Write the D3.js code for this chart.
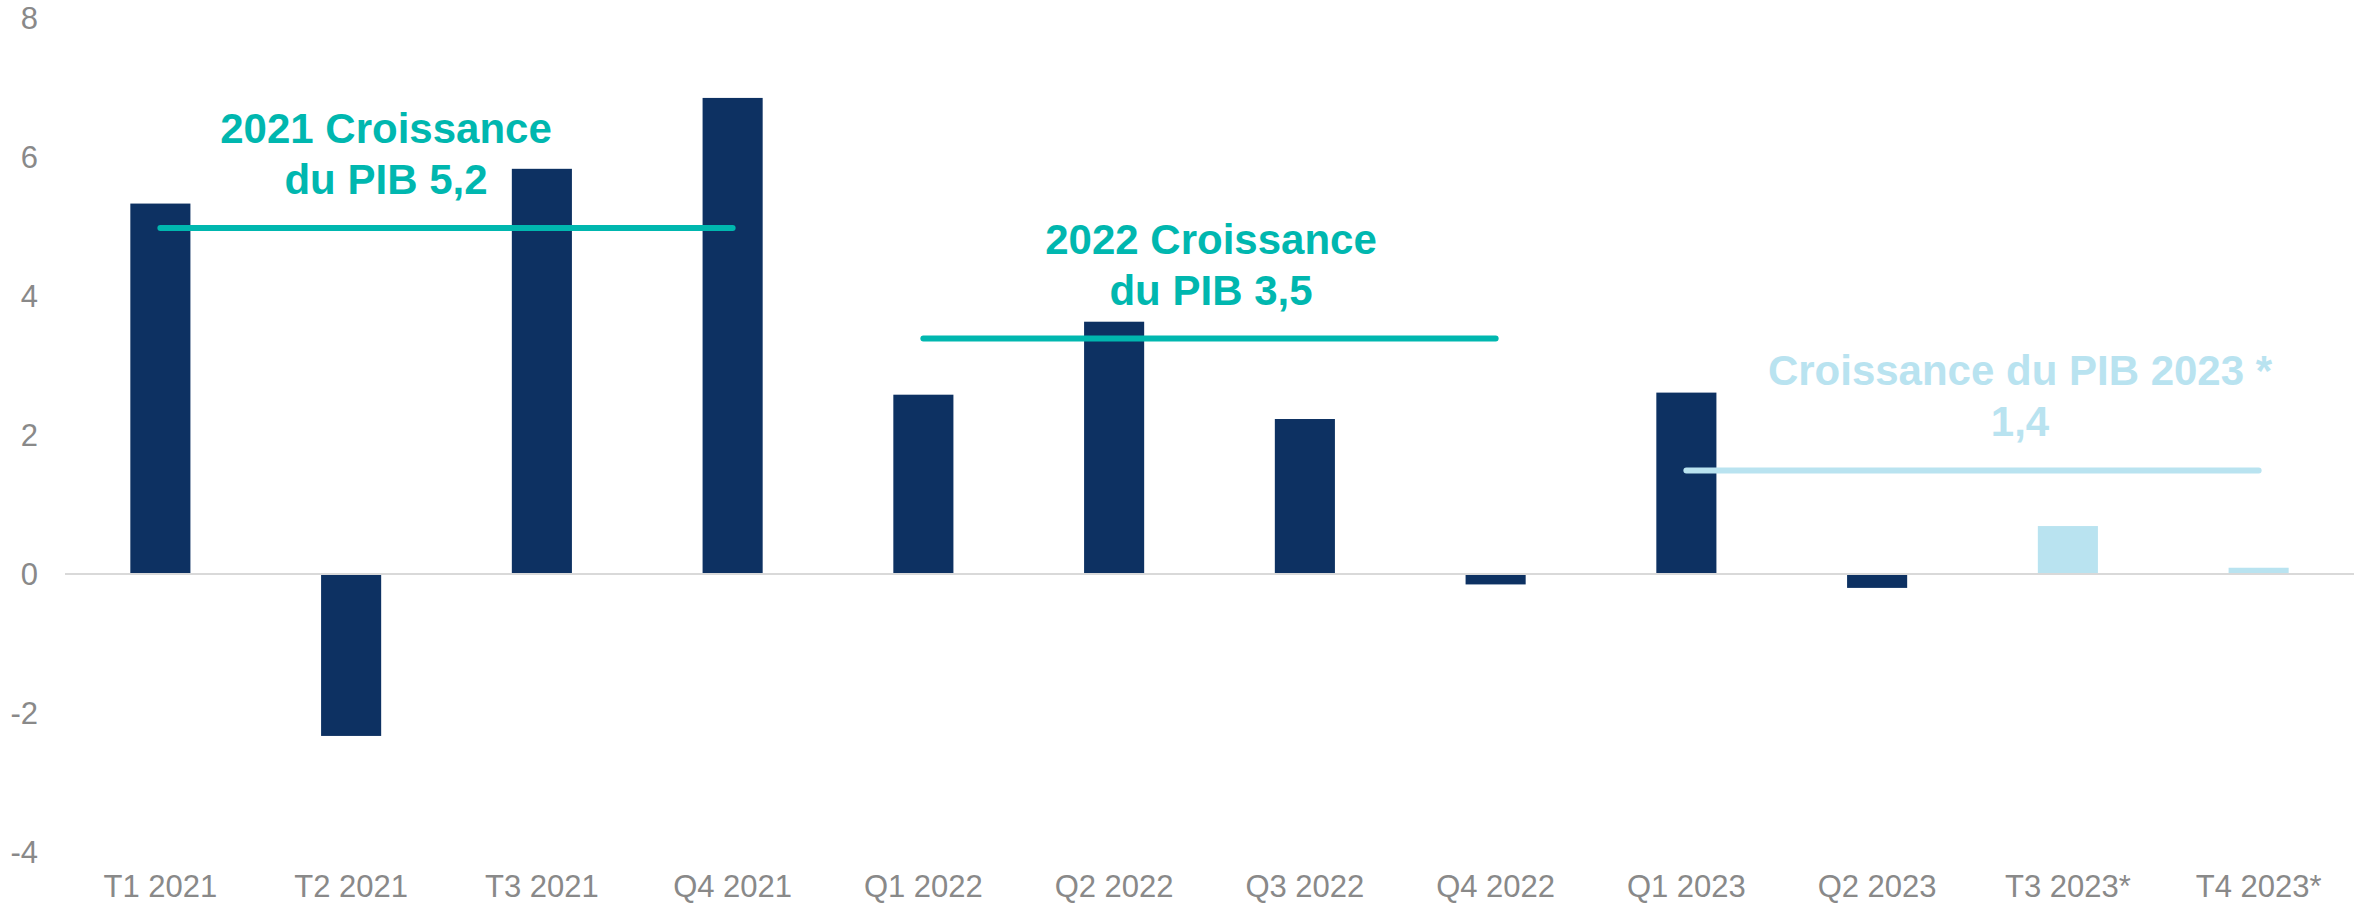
<!DOCTYPE html>
<html>
<head>
<meta charset="utf-8">
<script src="https://cdn.jsdelivr.net/npm/d3@7"></script>
<style>
  body { margin: 0; background: #fff; }
  svg text { font-family: 'Liberation Sans', Arial, sans-serif; }
</style>
</head>
<body>
<svg id="chart"></svg>
<script>
// quarterly GDP growth, %
const quarters = ['T1 2021', 'T2 2021', 'T3 2021', 'Q4 2021', 'Q1 2022', 'Q2 2022',
  'Q3 2022', 'Q4 2022', 'Q1 2023', 'Q2 2023', 'T3 2023*', 'T4 2023*'];
const growth = [5.33, -2.33, 5.83, 6.85, 2.58, 3.63, 2.23, -0.15, 2.61, -0.2, 0.69, 0.09];
const forecast = [false, false, false, false, false, false, false, false, false, false, true, true];
const yTicks = [-4, -2, 0, 2, 4, 6, 8];

// yearly averages drawn as lines
const years = ['2021', '2022', '2023'];
const yearStart = ['T1 2021', 'Q1 2022', 'Q1 2023'];
const yearEnd = ['Q4 2021', 'Q4 2022', 'T4 2023*'];
const yearLine = [4.98, 3.39, 1.49];
const yearText = [
  ['2021 Croissance', 'du PIB 5,2'],
  ['2022 Croissance', 'du PIB 3,5'],
  ['Croissance du PIB 2023 *', '1,4']
];

const width = 2369, height = 905;
const navy = '#0d3162', teal = '#00b7af', light = '#b9e3f0', grey = '#898989';

let svg = d3.select('#chart').attr('width', width).attr('height', height);

let x = d3.scaleBand()
  .domain(quarters)
  .range([65, 2354])
  .paddingInner(0.685)
  .paddingOuter(0.3425);
let y = d3.scaleLinear().domain([-4, 8]).range([852, 18]);

// y labels
svg.append('g')
  .selectAll('text')
  .data(yTicks)
  .enter()
  .append('text')
  .attr('x', 38)
  .attr('y', d => y(d) + 11)
  .attr('text-anchor', 'end')
  .attr('font-size', 31)
  .attr('fill', grey)
  .text(d => d);

// bars
svg.append('g')
  .selectAll('rect')
  .data(quarters)
  .enter()
  .append('rect')
  .attr('x', d => x(d))
  .attr('width', x.bandwidth())
  .attr('y', (d, i) => y(Math.max(0, growth[i])))
  .attr('height', (d, i) => Math.abs(y(growth[i]) - y(0)))
  .attr('fill', (d, i) => forecast[i] ? light : navy);

// zero line
svg.append('line')
  .attr('x1', 65)
  .attr('x2', 2354)
  .attr('y1', y(0))
  .attr('y2', y(0))
  .attr('stroke', '#d9d9d9')
  .attr('stroke-width', 2);

// x labels
svg.append('g')
  .selectAll('text')
  .data(quarters)
  .enter()
  .append('text')
  .attr('x', d => x(d) + x.bandwidth() / 2)
  .attr('y', 897)
  .attr('text-anchor', 'middle')
  .attr('font-size', 31)
  .attr('fill', grey)
  .text(d => d);

// yearly lines and notes
let textPos = [[386, 143], [1211, 254], [2020, 385]];
years.forEach((yr, i) => {
  let c = i === 2 ? light : teal;
  let g = svg.append('g');
  g.append('line')
    .attr('x1', x(yearStart[i]) + x.bandwidth() / 2)
    .attr('x2', x(yearEnd[i]) + x.bandwidth() / 2)
    .attr('y1', y(yearLine[i]))
    .attr('y2', y(yearLine[i]))
    .attr('stroke', c)
    .attr('stroke-width', 6)
    .attr('stroke-linecap', 'round');
  g.selectAll('text')
    .data(yearText[i])
    .enter()
    .append('text')
    .attr('x', textPos[i][0])
    .attr('y', (d, j) => textPos[i][1] + j * 51)
    .attr('text-anchor', 'middle')
    .attr('font-size', 42)
    .attr('font-weight', 'bold')
    .attr('fill', c)
    .text(d => d);
});
</script>
</body>
</html>
